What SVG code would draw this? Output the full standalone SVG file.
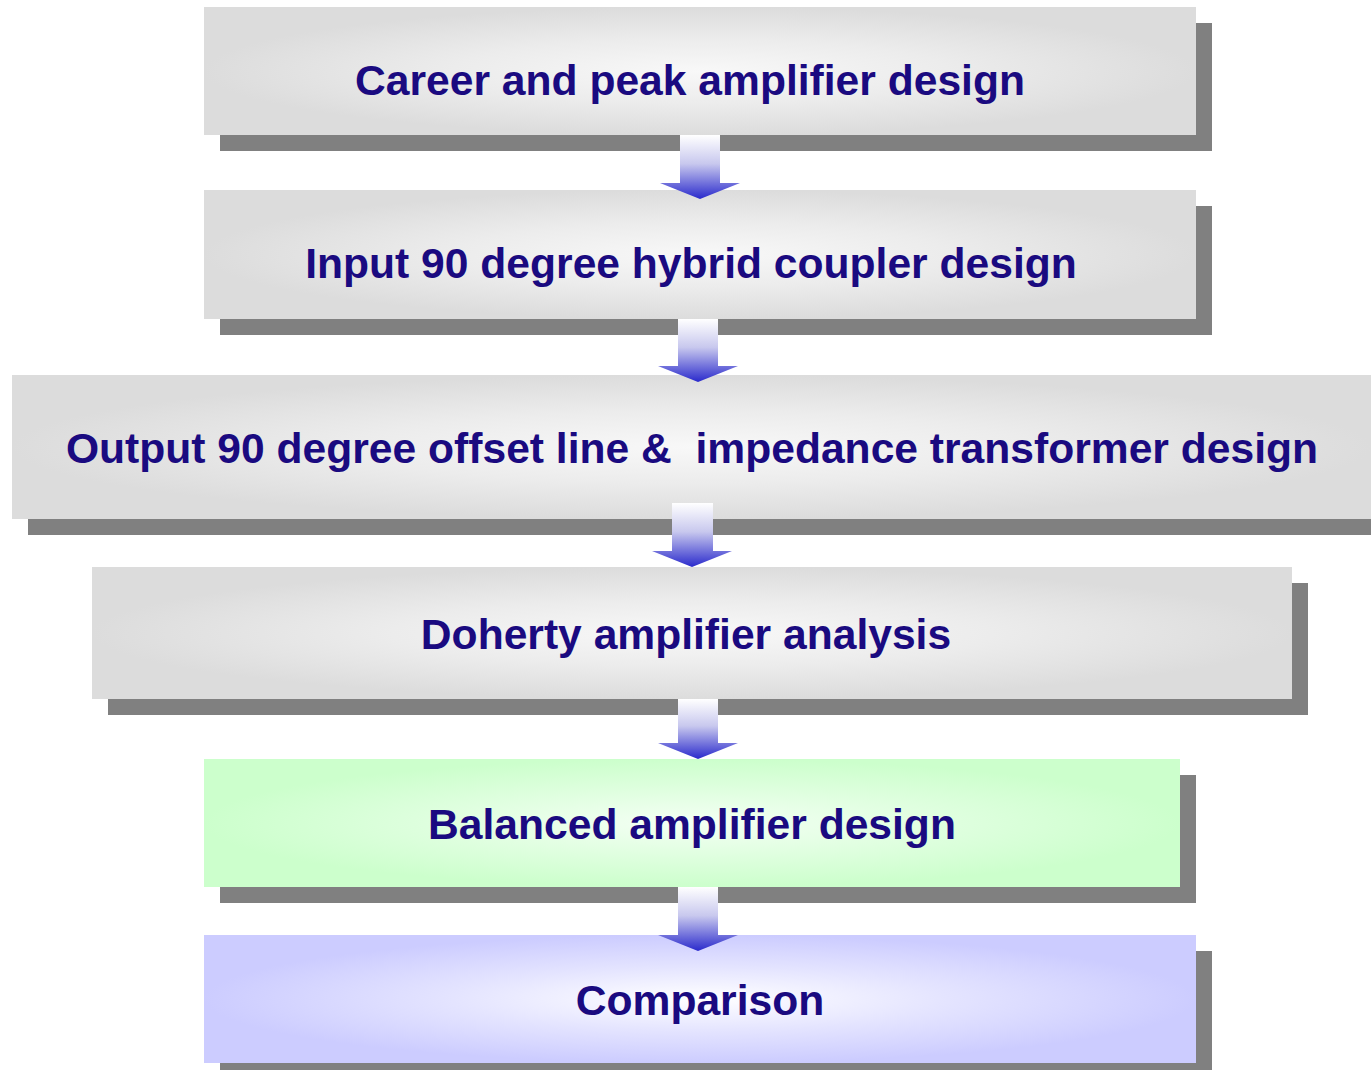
<svg xmlns="http://www.w3.org/2000/svg" width="1371" height="1070" viewBox="0 0 1371 1070">
<defs>
<radialGradient id="gGray" cx="0.5" cy="0.5" r="0.5" gradientUnits="objectBoundingBox">
<stop offset="0" stop-color="#f8f8f8"/>
<stop offset="0.5" stop-color="#ececec"/>
<stop offset="1" stop-color="#dcdcdc"/>
</radialGradient>
<radialGradient id="gGreen" cx="0.5" cy="0.5" r="0.5">
<stop offset="0" stop-color="#f4fff4"/>
<stop offset="0.5" stop-color="#e0ffe0"/>
<stop offset="1" stop-color="#ccffcc"/>
</radialGradient>
<radialGradient id="gBlue" cx="0.5" cy="0.5" r="0.5">
<stop offset="0" stop-color="#ffffff"/>
<stop offset="0.5" stop-color="#e4e4ff"/>
<stop offset="1" stop-color="#ccccff"/>
</radialGradient>
<linearGradient id="gArrow" x1="0" y1="0" x2="0" y2="1">
<stop offset="0" stop-color="#ffffff"/>
<stop offset="0.45" stop-color="#c8c8ee"/>
<stop offset="1" stop-color="#2a2acc"/>
</linearGradient>
</defs>
<style>
.sh{fill:#808080}
.t{font-family:"Liberation Sans",Arial,sans-serif;font-weight:bold;font-size:42.6px;fill:#1a0a80;text-anchor:middle}
</style>
<g id="node1">
<rect class="sh" x="220" y="23" width="992" height="128"/>
<rect x="204" y="7" width="992" height="128" fill="url(#gGray)"/>
<text class="t" x="690" y="95">Career and peak amplifier design</text>
</g>
<g id="node2">
<rect class="sh" x="220" y="206" width="992" height="129"/>
<rect x="204" y="190" width="992" height="129" fill="url(#gGray)"/>
<text class="t" x="691" y="278">Input 90 degree hybrid coupler design</text>
</g>
<g id="node3">
<rect class="sh" x="28" y="391" width="1343" height="144"/>
<rect x="12" y="375" width="1359" height="144" fill="url(#gGray)"/>
<text class="t" x="692" y="463" xml:space="preserve">Output 90 degree offset line &amp;  impedance transformer design</text>
</g>
<g id="node4">
<rect class="sh" x="108" y="583" width="1200" height="132"/>
<rect x="92" y="567" width="1200" height="132" fill="url(#gGray)"/>
<text class="t" x="686" y="649">Doherty amplifier analysis</text>
</g>
<g id="node5">
<rect class="sh" x="220" y="775" width="976" height="128"/>
<rect x="204" y="759" width="976" height="128" fill="url(#gGreen)"/>
<text class="t" x="692" y="839">Balanced amplifier design</text>
</g>
<g id="node6">
<rect class="sh" x="220" y="951" width="992" height="128"/>
<rect x="204" y="935" width="992" height="128" fill="url(#gBlue)"/>
<text class="t" x="700" y="1015">Comparison</text>
</g>
<g id="connectors">
<polygon fill="url(#gArrow)" points="680,135 720,135 720,183 740,183 700,199 660,183 680,183"/>
<polygon fill="url(#gArrow)" points="678,319 718,319 718,366 738,366 698,382 658,366 678,366"/>
<polygon fill="url(#gArrow)" points="672,503 713,503 713,551 732,551 692,567 652,551 672,551"/>
<polygon fill="url(#gArrow)" points="678,699 718,699 718,743 738,743 698,759 658,743 678,743"/>
<polygon fill="url(#gArrow)" points="678,887 718,887 718,935 738,935 698,951 658,935 678,935"/>
</g>
</svg>
